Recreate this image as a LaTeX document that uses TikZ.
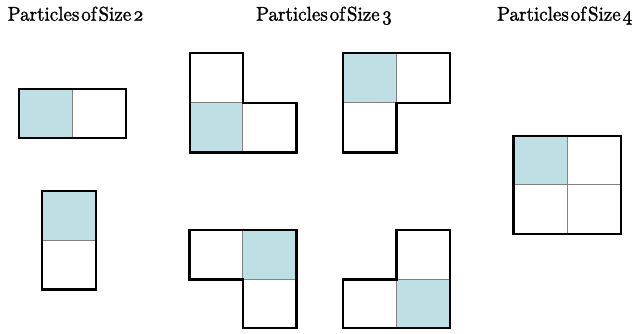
\documentclass[tikz,border=0pt]{standalone}
\usepackage{fontspec}
\newfontfamily\tfont{lmroman10-regular}[Extension=.otf, FakeBold=1.4, Numbers=OldStyle]
\definecolor{cellblue}{RGB}{190,223,227}
\definecolor{gridgray}{RGB}{130,130,130}
\newcommand{\ttl}[1]{\scalebox{0.95}[1]{\spaceskip=0.1em #1}}
\tikzset{
  outline/.style={draw=black, line width=2.4pt, line join=miter},
  inner/.style={draw=gridgray, line width=0.9pt},
  bluecell/.style={fill=cellblue},
  title/.style={anchor=base, inner sep=0pt, font=\tfont\fontsize{20}{24}\selectfont}
}
\begin{document}
\begin{tikzpicture}[x=1pt, y=-1pt]
\useasboundingbox (0,0) rectangle (635,333);
% titles
\node[title] (t2) at (75.7,20.7) {\ttl{Particles of Size 2}};
\node[title] (t3) at (324.2,20.7) {\ttl{Particles of Size 3}};
\node[title] (t4) at (564.8,20.7) {\ttl{Particles of Size 4}};
% size 2 horizontal
\fill[bluecell] (19,89) rectangle (72.3,138);
\draw[inner] (72.3,89) -- (72.3,138);
\draw[outline] (19,89) rectangle (125.7,138);
% size 2 vertical
\fill[bluecell] (42,191) rectangle (96,240.3);
\draw[inner] (42,240.3) -- (96,240.3);
\draw[outline] (42,191) rectangle (96,289.3);
% size 3 top-left
\fill[bluecell] (189.7,102.7) rectangle (242.7,152.3);
\draw[inner] (189.7,102.7) -- (242.7,102.7) -- (242.7,152.3);
\draw[outline] (189.7,52.7) -- (242.7,52.7) -- (242.7,102.7) -- (296.3,102.7) -- (296.3,152.3) -- (189.7,152.3) -- cycle;
% size 3 top-right
\fill[bluecell] (342.7,52.7) rectangle (396.3,102.7);
\draw[inner] (396.3,52.7) -- (396.3,102.7) -- (342.7,102.7);
\draw[outline] (342.7,52.7) -- (449.7,52.7) -- (449.7,102.7) -- (396.3,102.7) -- (396.3,152.3) -- (342.7,152.3) -- cycle;
% size 3 bottom-left
\fill[bluecell] (242.7,230) rectangle (296.3,279.3);
\draw[inner] (242.7,230) -- (242.7,279.3) -- (296.3,279.3);
\draw[outline] (189.3,230) -- (296.3,230) -- (296.3,328) -- (242.7,328) -- (242.7,279.3) -- (189.3,279.3) -- cycle;
% size 3 bottom-right
\fill[bluecell] (396.3,279.3) rectangle (449.7,328);
\draw[inner] (396.3,328) -- (396.3,279.3) -- (449.7,279.3);
\draw[outline] (396.3,230) -- (449.7,230) -- (449.7,328) -- (342.7,328) -- (342.7,279.3) -- (396.3,279.3) -- cycle;
% size 4
\fill[bluecell] (513.3,136) rectangle (567,184.7);
\draw[inner] (567,136) -- (567,234);
\draw[inner] (513.3,184.7) -- (620.7,184.7);
\draw[outline] (513.3,136) rectangle (620.7,234);
\end{tikzpicture}
\end{document}
